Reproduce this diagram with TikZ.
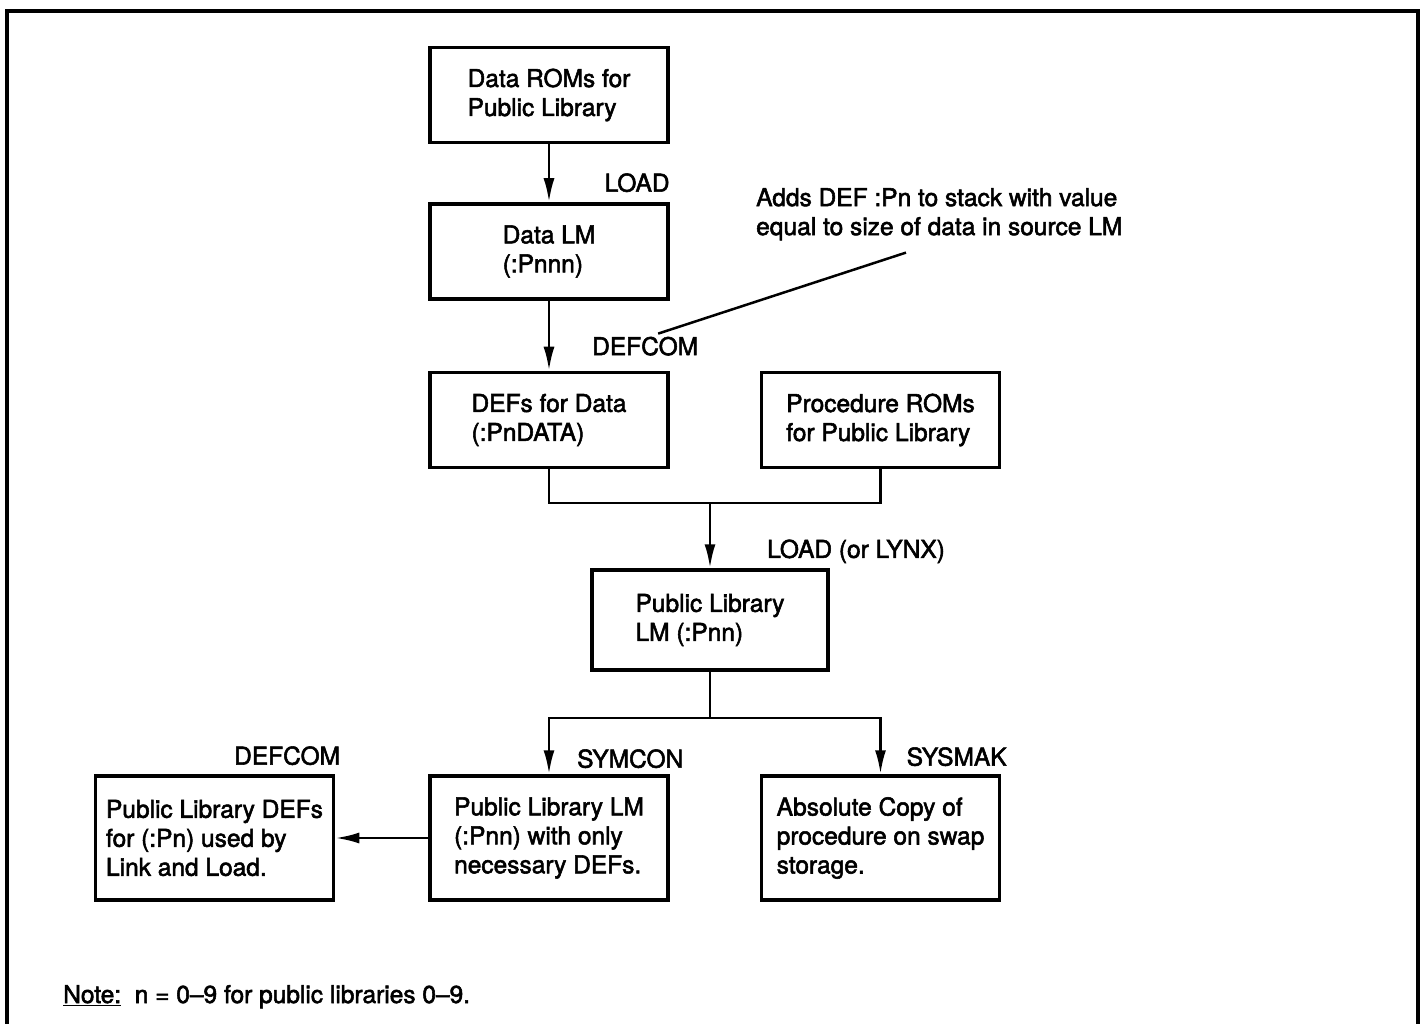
\documentclass[tikz,border=0pt]{standalone}
\usepackage{fontspec}
\newfontfamily\labelfont{TeX Gyre Heros}[Ligatures=TeX,FakeBold=2.2]
\usetikzlibrary{positioning}
\usetikzlibrary{arrows.meta,calc}

\begin{document}
\begin{tikzpicture}[x=1pt,y=-1pt,
>={Latex[length=24pt,width=11pt]},
font=\labelfont\fontsize{24.5}{29}\selectfont,
box/.style={rectangle,draw,line width=3.5pt,align=left,minimum width=238pt,minimum height=95pt,inner sep=4pt},
tallbox/.style={box,minimum height=124pt},
lbl/.style={inner sep=0pt},
link/.style={line width=2.8pt}]
\useasboundingbox (0,0) rectangle (1422,1024);
% frame, open at the bottom
\draw [line width=3.5pt] (7,1024) -- (7,11) -- (1418,11) -- (1418,1024);

\node [box] (dataroms) at (549,95) {Data ROMs for\\Public Library};
\node [box] (datalm) [below = 58pt of dataroms] {Data LM\\(:Pnnn)} edge [link,<-] (dataroms);
\node [box] (defsdata) [below = 70pt of datalm] {DEFs for Data\\(:PnDATA)} edge [link,<-] (datalm);
\node [box] (procroms) [right = 90pt of defsdata] {Procedure ROMs\\for Public Library};
\node [box,minimum width=236pt,minimum height=100pt] (publm) at (710,620) {Public Library\\LM (:Pnn)};
\node [tallbox] (symlm) at (549,838) {Public Library LM\\(:Pnn) with only\\necessary DEFs.};
\node [tallbox] (absol) [right = 90pt of symlm] {Absolute Copy of\\procedure on swap\\storage.};
\node [tallbox] (pubdefs) [left = 93pt of symlm] {Public Library DEFs\\for (:Pn) used by\\Link and Load.};

% labels on the arrows
\node [lbl, above left = 10pt and 0pt of datalm.north east] (load1) {LOAD};
\node [lbl, above right = 15pt and 43pt of defsdata.north] (defcom1) {DEFCOM};
\node [lbl, above right = 5pt and 57pt of publm.north] (load2) {LOAD (or LYNX)};
\node [lbl, above right = 6pt and 28pt of symlm.north] (symcon) {SYMCON};
\node [lbl, above right = 8pt and 26pt of absol.north] (sysmak) {SYSMAK};
\node [lbl, above left = 9pt and -5pt of pubdefs.north east] (defcom2) {DEFCOM};

\node [lbl, align=left, anchor=north west] (adds) at (756,188) {Adds DEF :Pn to stack with value\\equal to size of data in source LM};
\draw [line width=2.5pt] ($(adds.south west)+(150pt,-12pt)$) -- ($(defcom1.north)+(13pt,3pt)$);

% merge and split
\coordinate (merge) at (710,503);
\draw [link] (defsdata.south) |- (merge) -| (procroms.south);
\draw [link,->] (merge) -- (publm.north);
\coordinate (split) at (710,718);
\draw [link] (publm.south) -- (split);
\draw [link,->] (split) -| (symlm.north);
\draw [link,->] (split) -| (absol.north);
\draw [link,->] (symlm.west) -- (pubdefs.east);

\node [lbl, anchor=base west] (footnote) at (63,1003) {\underline{Note:}\ \ n = 0--9 for public libraries 0--9.};
\end{tikzpicture}
\end{document}
